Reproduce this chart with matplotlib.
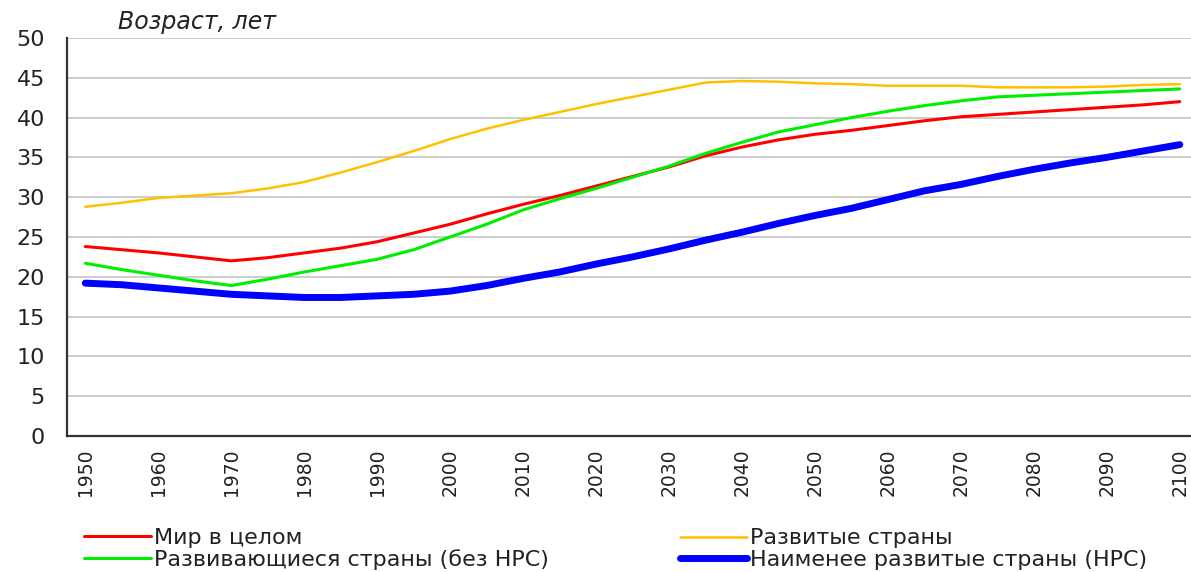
import matplotlib
matplotlib.use("Agg")
import matplotlib.pyplot as plt

years = list(range(1950, 2101, 5))

world = [23.8, 23.4, 23.0, 22.5, 22.0, 22.4, 23.0, 23.6, 24.4, 25.5,
         26.6, 27.9, 29.1, 30.2, 31.4, 32.6, 33.8, 35.2, 36.3, 37.2,
         37.9, 38.4, 39.0, 39.6, 40.1, 40.4, 40.7, 41.0, 41.3, 41.6, 42.0]
developed = [28.8, 29.3, 29.9, 30.2, 30.5, 31.1, 31.9, 33.1, 34.4, 35.8,
             37.3, 38.6, 39.7, 40.7, 41.7, 42.6, 43.5, 44.4, 44.6, 44.5,
             44.3, 44.2, 44.0, 44.0, 44.0, 43.8, 43.8, 43.8, 43.9, 44.1, 44.2]
developing = [21.7, 20.9, 20.2, 19.5, 18.9, 19.7, 20.6, 21.4, 22.2, 23.4,
              25.0, 26.6, 28.4, 29.8, 31.1, 32.5, 33.9, 35.5, 36.9, 38.2,
              39.1, 40.0, 40.8, 41.5, 42.1, 42.6, 42.8, 43.0, 43.2, 43.4, 43.6]
least_dev = [19.2, 19.0, 18.6, 18.2, 17.8, 17.6, 17.4, 17.4, 17.6, 17.8,
             18.2, 18.9, 19.8, 20.6, 21.6, 22.5, 23.5, 24.6, 25.6, 26.7,
             27.7, 28.6, 29.7, 30.8, 31.6, 32.6, 33.5, 34.3, 35.0, 35.8, 36.6]

labels = ["Мир в целом", "Развитые страны",
          "Развивающиеся страны (без НРС)", "Наименее развитые страны (НРС)"]
tick_years = list(range(1950, 2101, 10))
y_ticks = list(range(0, 51, 5))

plt.rcParams["font.family"] = ["DejaVu Sans"]
text_color = "#222222"

fig = plt.figure(figsize=(11.91, 5.72), dpi=100)
ax = fig.add_axes([0.0563, 0.2378, 0.9496, 0.6958])

l_world, = ax.plot(years, world, color="#ff0000", lw=2.2, solid_capstyle="round")
l_dev, = ax.plot(years, developed, color="#ffc000", lw=1.8, solid_capstyle="round")
l_devg, = ax.plot(years, developing, color="#00ee00", lw=2.2, solid_capstyle="round")
l_least, = ax.plot(years, least_dev, color="#0000ff", lw=5, solid_capstyle="round")

ax.set_xlim(1947.5, 2102.5)
ax.set_ylim(0, 50)
ax.set_yticks(y_ticks)
ax.set_xticks(tick_years)
ax.set_xticklabels([str(y) for y in tick_years], rotation=90)
ax.tick_params(axis="y", length=0, pad=16, labelsize=16, labelcolor=text_color)
ax.tick_params(axis="x", length=0, pad=9, labelsize=13.5, labelcolor=text_color)

ax.grid(axis="y", color="#c8c8c8", lw=1.3)
ax.set_axisbelow(True)
for side in ("top", "right"):
    ax.spines[side].set_visible(False)
for side in ("left", "bottom"):
    ax.spines[side].set_color("#333333")
    ax.spines[side].set_linewidth(1.6)

fig.text(118 / 1191, 1 - 22 / 572, "Возраст, лет", style="italic",
         fontsize=17, color=text_color, ha="left", va="center")

leg_kw = dict(frameon=False, fontsize=16, handlelength=3.0, handletextpad=0.15,
              labelspacing=0.05, borderpad=0, borderaxespad=0, loc="center left",
              labelcolor=text_color)
fig.legend([l_world, l_devg], [labels[0], labels[2]],
           bbox_to_anchor=(84 / 1191, 1 - 549 / 572), **leg_kw)
fig.legend([l_dev, l_least], [labels[1], labels[3]],
           bbox_to_anchor=(680 / 1191, 1 - 549 / 572), **leg_kw)

fig.savefig("out.png", dpi=100)
